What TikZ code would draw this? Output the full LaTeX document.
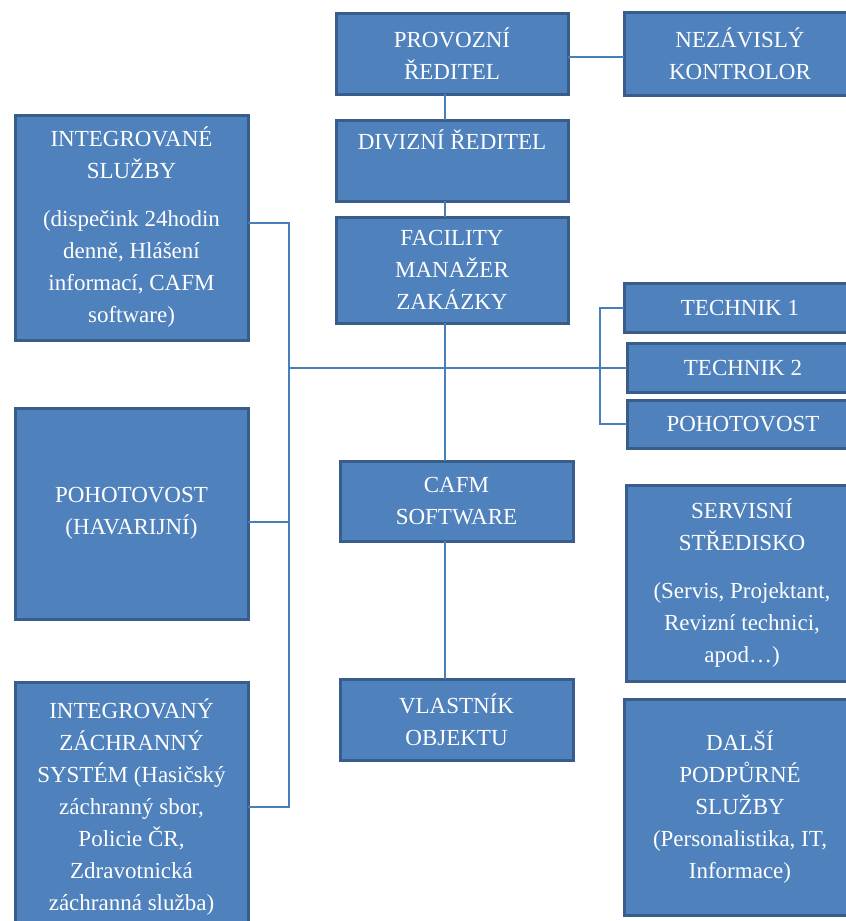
\documentclass[tikz,border=0pt]{standalone}
\usepackage{fontspec}
\setmainfont{Liberation Serif}
\usetikzlibrary{positioning}
\definecolor{boxfill}{HTML}{4F81BD}
\definecolor{boxline}{HTML}{385D8A}
\definecolor{linkcol}{HTML}{4A7EBB}

\begin{document}
\begin{tikzpicture}[x=1pt,y=1pt,
    box/.style={draw=boxline,line width=3pt,fill=boxfill,text=white,align=center,
      font=\fontsize{23}{32}\selectfont,outer sep=0pt,inner sep=0pt,minimum width=232pt},
    link/.style={draw=linkcol,line width=2pt}]
    \useasboundingbox (0,0) rectangle (846,-921);

    % middle column
    \node[box,minimum height=81pt] (1) at (452,-53.5) {PROVOZNÍ\\ŘEDITEL};
    \node[box,minimum height=83pt,right = 56pt of 1] (2) {NEZÁVISLÝ\\KONTROLOR};
    \node[box,minimum height=81pt,below = 26pt of 1] (3) {DIVIZNÍ ŘEDITEL\\\strut};
    \node[box,minimum height=106pt,below = 16pt of 3] (4) {FACILITY\\MANAŽER\\ZAKÁZKY};
    \node[box,minimum height=80pt,minimum width=233pt,below = 138pt of 4,xshift=4.5pt] (5) {CAFM\\SOFTWARE};
    \node[box,minimum height=81pt,minimum width=233pt,below = 138pt of 5] (6) {VLASTNÍK\\OBJEKTU};

    % left column
    \node[box,minimum height=225pt,minimum width=233pt] (7) at (131.5,-227.5)
      {INTEGROVANÉ\\SLUŽBY\\[16pt](dispečink 24hodin\\denně, Hlášení\\informací, CAFM\\software)};
    \node[box,minimum height=211pt,minimum width=233pt,below = 68pt of 7] (8) {POHOTOVOST\\(HAVARIJNÍ)};
    \node[box,minimum height=250pt,minimum width=233pt,below = 63pt of 8] (9)
      {INTEGROVANÝ\\ZÁCHRANNÝ\\SYSTÉM (Hasičský\\záchranný sbor,\\Policie ČR,\\Zdravotnická\\záchranná služba)};

    % right column
    \node[box,minimum height=49pt] (10) at (740,-307.5) {TECHNIK 1};
    \node[box,minimum height=49pt,below = 11pt of 10,xshift=3pt] (11) {TECHNIK 2};
    \node[box,minimum height=48pt,below = 8pt of 11] (12) {POHOTOVOST};
    \node[box,minimum height=196pt,below = 37pt of 12,xshift=-1pt] (13)
      {SERVISNÍ\\STŘEDISKO\\[16pt](Servis, Projektant,\\Revizní technici,\\apod…)};
    \node[box,minimum height=216pt,below = 18pt of 13,xshift=-2pt] (14)
      {DALŠÍ\\PODPŮRNÉ\\SLUŽBY\\(Personalistika, IT,\\Informace)};

    \coordinate (bus) at (289,0);
    \coordinate (mid) at (445,0);

    \draw[link] ([yshift=-3pt]1.east) -- ([yshift=-3pt]1.east -| 2.west);
    \draw[link] (1.south -| mid) -- (3.north -| mid);
    \draw[link] (3.south -| mid) -- (4.north -| mid);
    \draw[link] (4.south -| mid) -- (5.north -| mid);
    \draw[link] (5.south -| mid) -- (6.north -| mid);
    \draw[link] ([yshift=5pt]7.east) -| (bus |- 9.east) -- (9.east);
    \draw[link] ([yshift=-8pt]8.east) -- ([yshift=-8pt]8.east -| bus);
    \draw[link] (11.west) -- (11.west -| bus);
    \draw[link] (10.west) -- ++(-24pt,0) |- (12.west);
  \end{tikzpicture}
\end{document}
